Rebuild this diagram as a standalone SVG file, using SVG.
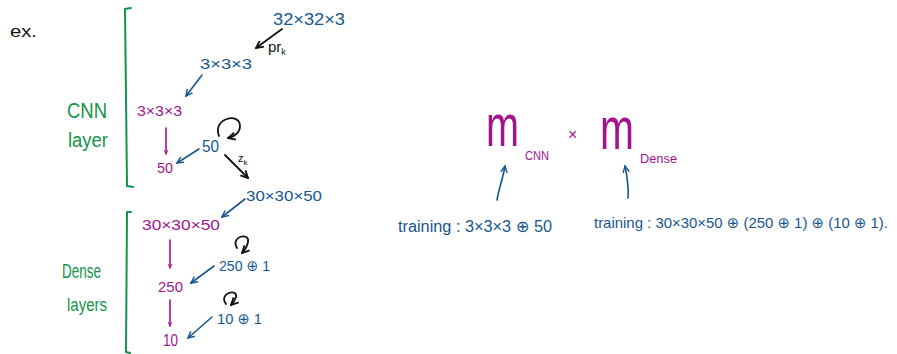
<svg xmlns="http://www.w3.org/2000/svg" width="897" height="354" viewBox="0 0 897 354">
<defs>
<style>
text{font-family:"Liberation Sans","DejaVu Sans",sans-serif;}
.bl{fill:#17578f;}
.mg{fill:#a3138e;}
.gr{fill:#13944a;}
.bk{fill:#111;}
.c{fill:none;stroke-width:1.6;stroke-linecap:round;stroke-linejoin:round;}
.cb{stroke:#17578f;marker-end:url(#hb);}
.cm{stroke:#a3138e;marker-end:url(#hm);}
.ck{stroke:#111;marker-end:url(#hk);stroke-width:1.8;}
.br{fill:none;stroke:#13944a;stroke-width:2;stroke-linecap:round;stroke-linejoin:round;}
</style>
<marker id="hb" viewBox="0 0 10 10" refX="9" refY="5" markerWidth="8" markerHeight="8" markerUnits="userSpaceOnUse" orient="auto"><path d="M1,1 L9,5 L1,9" fill="none" stroke="#17578f" stroke-width="1.8"/></marker>
<marker id="hm" viewBox="0 0 10 10" refX="9" refY="5" markerWidth="5" markerHeight="5" markerUnits="userSpaceOnUse" orient="auto"><path d="M1,1 L9,5 L1,9" fill="none" stroke="#a3138e" stroke-width="1.8"/></marker>
<marker id="hk" viewBox="0 0 10 10" refX="9" refY="5" markerWidth="9" markerHeight="9" markerUnits="userSpaceOnUse" orient="auto"><path d="M1,1 L9,5 L1,9" fill="none" stroke="#111" stroke-width="2"/></marker>
</defs>
<rect width="897" height="354" fill="#fff"/>

<g id="ex"><text class="bk" x="10" y="37" font-size="17" textLength="27" lengthAdjust="spacingAndGlyphs">ex.</text></g>

<g id="cnn-bracket">
<path class="br" d="M131,8 L125,9 L127,186 L133,187"/>
<text class="gr" x="67" y="118" font-size="22" textLength="40" lengthAdjust="spacingAndGlyphs">CNN</text>
<text class="gr" x="68" y="147" font-size="20" textLength="40" lengthAdjust="spacingAndGlyphs">layer</text>
</g>
<g id="dense-bracket">
<path class="br" d="M131,212 L127,212 L126,352 L130,353"/>
<text class="gr" x="62" y="278" font-size="21" textLength="39" lengthAdjust="spacingAndGlyphs">Dense</text>
<text class="gr" x="67" y="311" font-size="19" textLength="40" lengthAdjust="spacingAndGlyphs">layers</text>
</g>

<g id="input"><text class="bl" x="273" y="25" font-size="17" textLength="72" lengthAdjust="spacingAndGlyphs">32×32×3</text></g>
<g id="prk"><text class="bk" x="268" y="52" font-size="15">pr<tspan font-size="9" dy="3">k</tspan></text></g>
<g id="kernel"><text class="bl" x="200" y="69" font-size="15" textLength="52" lengthAdjust="spacingAndGlyphs">3×3×3</text></g>
<g id="cnn-in"><text class="mg" x="137" y="116" font-size="14" textLength="45" lengthAdjust="spacingAndGlyphs">3×3×3</text></g>
<g id="cnn-out"><text class="mg" x="157" y="173" font-size="14" textLength="16" lengthAdjust="spacingAndGlyphs">50</text></g>
<g id="filters"><text class="bl" x="202" y="152" font-size="16" textLength="17" lengthAdjust="spacingAndGlyphs">50</text></g>
<g id="zk"><text class="bk" x="238" y="162" font-size="11">z<tspan font-size="8" dy="3">k</tspan></text></g>
<g id="feat"><text class="bl" x="246" y="201" font-size="15" textLength="76" lengthAdjust="spacingAndGlyphs">30×30×50</text></g>
<g id="dense-in"><text class="mg" x="142" y="230" font-size="15" textLength="78" lengthAdjust="spacingAndGlyphs">30×30×50</text></g>
<g id="d250"><text class="mg" x="158" y="292" font-size="14" textLength="25" lengthAdjust="spacingAndGlyphs">250</text></g>
<g id="w250"><text class="bl" x="219" y="271" font-size="15" textLength="51" lengthAdjust="spacingAndGlyphs">250 ⊕ 1</text></g>
<g id="d10"><text class="mg" x="163" y="346" font-size="16" textLength="15" lengthAdjust="spacingAndGlyphs">10</text></g>
<g id="w10"><text class="bl" x="217" y="324" font-size="15" textLength="45" lengthAdjust="spacingAndGlyphs">10 ⊕ 1</text></g>

<g id="m-cnn">
<text class="mg" transform="translate(486,146) scale(0.66,1)" x="0" y="0" font-size="60">m</text>
<text class="mg" x="525" y="160" font-size="12" textLength="24" lengthAdjust="spacingAndGlyphs">CNN</text>
</g>
<g id="times"><text class="mg" x="568" y="140" font-size="16">×</text></g>
<g id="m-dense">
<text class="mg" transform="translate(600,149) scale(0.68,1)" x="0" y="0" font-size="60">m</text>
<text class="mg" x="640" y="163" font-size="12" textLength="37" lengthAdjust="spacingAndGlyphs">Dense</text>
</g>
<g id="train-cnn"><text class="bl" x="398" y="232" font-size="16" textLength="154" lengthAdjust="spacingAndGlyphs">training : 3×3×3 ⊕ 50</text></g>
<g id="train-dense"><text class="bl" x="594" y="228" font-size="15" textLength="294" lengthAdjust="spacingAndGlyphs">training : 30×30×50 ⊕ (250 ⊕ 1) ⊕ (10 ⊕ 1).</text></g>

<g id="connectors">
<path class="c ck" d="M282,29 L256,48"/>
<path class="c cb" d="M202,75 L186,96"/>
<path class="c cm" d="M166,128 L166,154"/>
<path class="c cb" d="M199,149 L177,163"/>
<path class="c ck" d="M219,136 C212,118 240,112 240,126 C240,132 236,136 228,138"/>
<path class="c ck" d="M225,155 L248,178"/>
<path class="c cb" d="M245,199 L222,217"/>
<path class="c cm" d="M170,240 L170,268"/>
<path class="c ck" d="M237,248 C230,236 250,232 248,242 C247,247 245,250 242,253"/>
<path class="c cb" d="M214,266 L191,283"/>
<path class="c cm" d="M170,300 L170,326"/>
<path class="c ck" d="M226,304 C218,293 238,288 236,297 C235,300 233,303 231,305"/>
<path class="c cb" d="M212,317 L188,338"/>
<path class="c cb" d="M497,200 C499,188 503,178 505,166"/>
<path class="c cb" d="M628,198 C629,188 627,176 625,166"/>
</g>
</svg>
